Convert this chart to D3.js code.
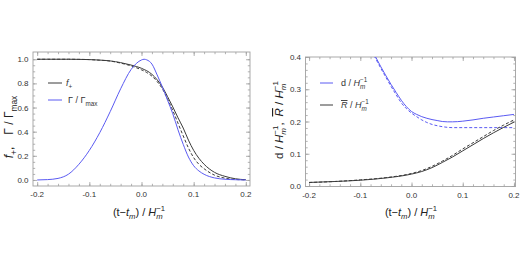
<!DOCTYPE html>
<html><head><meta charset="utf-8">
<script src="https://cdn.jsdelivr.net/npm/d3@7"></script>
<style>body{margin:0;background:#fff}svg{display:block;font-family:"Liberation Sans",Arial,sans-serif}</style>
</head><body>
<svg id="c" width="521" height="273"></svg>
<script>
// ---------- data ----------
const tLeft = [-0.2,-0.18,-0.16,-0.14,-0.12,-0.1,-0.08,-0.06,-0.04,-0.02,-0.01,0,0.005,0.01,0.02,0.03,0.04,0.05,0.06,0.07,0.08,0.09,0.1,0.11,0.12,0.14,0.16,0.18,0.2];
const gammaRatio = [0.000,0.003,0.013,0.048,0.130,0.245,0.392,0.566,0.755,0.915,0.965,0.994,1.000,0.995,0.960,0.870,0.770,0.660,0.548,0.415,0.295,0.190,0.118,0.075,0.047,0.017,0.006,0.002,0.000];
const fPlus = [1.0,1.0,1.0,1.0,0.999,0.997,0.993,0.986,0.972,0.952,0.940,0.925,0.915,0.905,0.875,0.830,0.770,0.690,0.605,0.515,0.430,0.330,0.245,0.180,0.130,0.063,0.030,0.010,0.002];
const fPlusDashed = [1.0,1.0,1.0,1.0,0.999,0.997,0.992,0.985,0.968,0.945,0.930,0.912,0.902,0.890,0.860,0.815,0.755,0.670,0.575,0.470,0.365,0.265,0.185,0.130,0.093,0.040,0.015,0.004,0.001];

const tD = [-0.09,-0.08,-0.07,-0.06,-0.05,-0.04,-0.03,-0.02,-0.01,0,0.01,0.02,0.03,0.04,0.05,0.06,0.07,0.08,0.1,0.12,0.14,0.16,0.18,0.2];
const dSolid = [0.465,0.430,0.400,0.370,0.342,0.315,0.290,0.266,0.246,0.231,0.222,0.215,0.210,0.206,0.203,0.200,0.199,0.199,0.201,0.205,0.210,0.214,0.218,0.222];
const dDashed = [0.460,0.425,0.395,0.365,0.337,0.309,0.283,0.258,0.240,0.226,0.215,0.205,0.197,0.191,0.187,0.184,0.182,0.181,0.181,0.181,0.181,0.181,0.181,0.181];

const tR = [-0.2,-0.15,-0.1,-0.05,0,0.02,0.04,0.06,0.08,0.1,0.12,0.14,0.16,0.18,0.2];
const rSolid = [0.011,0.014,0.018,0.025,0.037,0.045,0.057,0.073,0.090,0.109,0.128,0.147,0.165,0.182,0.198];
const rDashed = [0.011,0.014,0.019,0.026,0.039,0.048,0.061,0.077,0.095,0.115,0.134,0.153,0.172,0.189,0.205];

const xTicks = [-0.2,-0.1,0.0,0.1,0.2];
const yTicksLeft = [0.0,0.2,0.4,0.6,0.8,1.0];
const yTicksRight = [0.0,0.1,0.2,0.3,0.4];

// ---------- drawing ----------
const BLACK = "#3a3a3a", BLUE = "#5a5af2", FRAME = "#a0a0a0", TXT = "#333";
const svg = d3.select("#c");
const fmt = d3.formatLocale({decimal:".",thousands:",",grouping:[3],currency:["",""],minus:"-"}).format(".1f");

function rich(sel, parts, size){
  let cur = 0;
  parts.forEach(p=>{
    const ts = sel.append("tspan").text(p.t);
    let target = 0, fs = size;
    if(p.sub){target = size*0.3; fs = size*0.7;}
    if(p.sup){target = -size*0.42; fs = size*0.7;}
    ts.attr("dy", target-cur).attr("font-size", fs);
    cur = target;
    if(p.i) ts.attr("font-style","italic");
    if(p.o) ts.attr("text-decoration","overline");
    if(p.dx) ts.attr("dx", p.dx*size);
  });
}
const Hm = [{t:"H",i:1},{t:"m",i:1,sub:1},{t:"\u22121",sup:1,dx:-0.58}];

function panel(cfg){
  const g = svg.append("g");
  const x = d3.scaleLinear().domain(cfg.xd).range([cfg.x0,cfg.x1]);
  const y = d3.scaleLinear().domain(cfg.yd).range([cfg.y1,cfg.y0]);
  const id = "clip"+cfg.name;
  svg.append("clipPath").attr("id",id).append("rect")
    .attr("x",cfg.x0).attr("y",cfg.y0).attr("width",cfg.x1-cfg.x0).attr("height",cfg.y1-cfg.y0);
  const axes = [
    [d3.axisBottom(x), `translate(0,${cfg.y1})`, cfg.xMinor, xTicks],
    [d3.axisTop(x), `translate(0,${cfg.y0})`, cfg.xMinor, xTicks],
    [d3.axisLeft(y), `translate(${cfg.x0},0)`, cfg.yMinor, cfg.yTicks],
    [d3.axisRight(y), `translate(${cfg.x1},0)`, cfg.yMinor, cfg.yTicks]
  ];
  axes.forEach(([ax,tr,minor,major])=>{
    const gmin = g.append("g").attr("transform",tr).call(ax.tickValues(minor).tickSize(-2.2).tickFormat(""));
    const gmaj = g.append("g").attr("transform",tr).call(ax.tickValues(major).tickSize(-4).tickFormat(""));
    [gmin,gmaj].forEach(s=>{s.select(".domain").remove(); s.selectAll("line").attr("stroke",FRAME).attr("stroke-width",0.8);});
  });
  g.append("rect").attr("x",cfg.x0).attr("y",cfg.y0).attr("width",cfg.x1-cfg.x0).attr("height",cfg.y1-cfg.y0)
    .attr("fill","none").attr("stroke",FRAME).attr("stroke-width",0.9);
  // tick labels
  g.selectAll(null).data(xTicks).enter().append("text")
    .attr("x",d=>x(d)).attr("y",cfg.y1+11).attr("text-anchor","middle")
    .attr("font-size",8).attr("fill",TXT).text(d=>fmt(d));
  g.selectAll(null).data(cfg.yTicks).enter().append("text")
    .attr("x",cfg.x0-4.5).attr("y",d=>y(d)+3).attr("text-anchor","end")
    .attr("font-size",8).attr("fill",TXT).text(d=>fmt(d));
  // curves
  const cg = g.append("g").attr("clip-path",`url(#${id})`);
  cfg.series.forEach(s=>{
    const line = d3.line().x((d,i)=>x(s.t[i])).y(d=>y(d)).curve(d3.curveMonotoneX);
    cg.append("path").attr("d",line(s.v)).attr("fill","none").attr("stroke",s.c)
      .attr("stroke-width",1).attr("stroke-dasharray",s.dash?"3,2":null);
  });
  // legend
  cfg.legend.forEach(L=>{
    g.append("line").attr("x1",L.x).attr("x2",L.x+L.w).attr("y1",L.y).attr("y2",L.y).attr("stroke",L.c).attr("stroke-width",1);
    const t = g.append("text").attr("x",L.x+L.w+L.gap).attr("y",L.y+3).attr("font-size",9).attr("fill",TXT);
    rich(t,L.parts,9);
  });
  // axis labels
  const xl = g.append("text").attr("x",cfg.xlx).attr("y",216).attr("text-anchor","middle").attr("font-size",11).attr("fill","#222");
  rich(xl,[{t:"(t\u2212"},{t:"t",i:1},{t:"m",i:1,sub:1},{t:") / "}].concat(Hm),11);
  const yl = g.append("text").attr("transform",`translate(${cfg.ylx},${cfg.yly}) rotate(-90)`).attr("text-anchor","middle").attr("font-size",cfg.ys).attr("fill","#222");
  rich(yl,cfg.yparts,cfg.ys);
}

panel({
  name:"L", x0:33, x1:250, y0:52, y1:186,
  xd:[-0.208,0.208], yd:[-0.05,1.06],
  xMinor:d3.range(-0.2,0.2001,0.02), yMinor:d3.range(0,1.0001,0.05), yTicks:yTicksLeft,
  series:[
    {t:tLeft,v:fPlusDashed,c:BLACK,dash:true},
    {t:tLeft,v:fPlus,c:BLACK},
    {t:tLeft,v:gammaRatio,c:BLUE}
  ],
  legend:[
    {x:48,w:14,gap:4,y:83,c:BLACK,parts:[{t:"f",i:1},{t:"+",sub:1}]},
    {x:48,w:14,gap:6,y:100,c:BLUE,parts:[{t:"\u0393 / \u0393"},{t:"max",sub:1}]}
  ],
  xlx:139, ylx:13, yly:127, ys:12,
  yparts:[{t:"f",i:1},{t:"+",sub:1},{t:",\u2003\u0393 / \u0393"},{t:"max",sub:1}]
});

panel({
  name:"R", x0:305.5, x1:515.5, y0:57, y1:186.5,
  xd:[-0.207,0.203], yd:[-0.0015,0.4],
  xMinor:d3.range(-0.2,0.2001,0.02), yMinor:d3.range(0,0.4001,0.02), yTicks:yTicksRight,
  series:[
    {t:tD,v:dDashed,c:BLUE,dash:true},
    {t:tD,v:dSolid,c:BLUE},
    {t:tR,v:rDashed,c:BLACK,dash:true},
    {t:tR,v:rSolid,c:BLACK}
  ],
  legend:[
    {x:320,w:13,gap:8,y:83,c:BLUE,parts:[{t:"d / "}].concat(Hm)},
    {x:320,w:13,gap:8,y:105,c:BLACK,parts:[{t:"R",i:1,o:1},{t:" / "}].concat(Hm)}
  ],
  xlx:411, ylx:283, yly:120, ys:11.5,
  yparts:[{t:"d / "}].concat(Hm).concat([{t:",\u2002"},{t:"R",i:1,o:1},{t:" / "}]).concat(Hm)
});
</script>
</body></html>
